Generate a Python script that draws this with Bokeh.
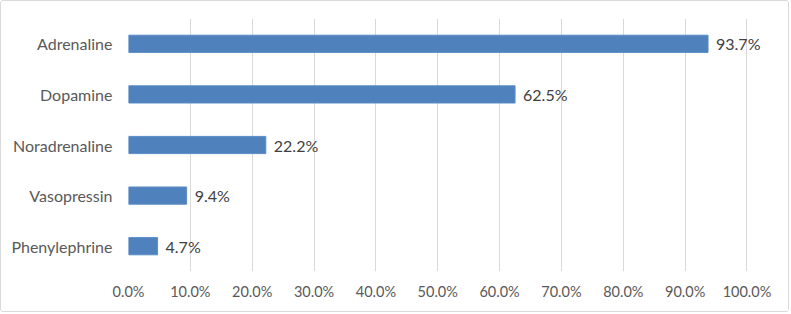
from bokeh.plotting import figure
from bokeh.models import ColumnDataSource, FactorRange, Range1d, FixedTicker, PrintfTickFormatter, LabelSet
from bokeh.core.properties import value
from bokeh.embed import file_html
from bokeh.resources import INLINE

categories = ["Adrenaline", "Dopamine", "Noradrenaline", "Vasopressin", "Phenylephrine"]
values = [93.7, 62.5, 22.2, 9.4, 4.7]
labels = ["93.7%", "62.5%", "22.2%", "9.4%", "4.7%"]
ticks = [0, 10, 20, 30, 40, 50, 60, 70, 80, 90, 100]

src = ColumnDataSource(dict(cat=categories, val=values, lab=labels))

p = figure(width=789, height=312, output_backend="svg", toolbar_location=None,
           y_range=FactorRange(factors=list(reversed(categories))),
           x_range=Range1d(0, 103.8),
           min_border_left=127, min_border_right=20, min_border_top=17, min_border_bottom=42)
p.styles = {"border": "1px solid #d9d9d9", "border-radius": "3px"}
p.outline_line_color = None
p.hbar(y="cat", right="val", left=0, height=0.34, source=src,
       fill_color="#4F81BD", line_color="#5B8CC6", line_width=1)

p.add_layout(LabelSet(x="val", y="cat", text="lab", source=src, x_offset=8,
                      text_baseline="middle", text_align="left",
                      text_font=value("Lato"), text_font_size=value("16px"),
                      text_color=value("#404040")))

p.xaxis.ticker = FixedTicker(ticks=ticks)
p.xaxis.formatter = PrintfTickFormatter(format="%.1f%%")
p.xaxis.axis_line_color = None
p.xaxis.major_tick_line_color = None
p.xaxis.minor_tick_line_color = None
p.xaxis.major_tick_out = 0
p.xaxis.major_tick_in = 0
p.xaxis.major_label_standoff = 11
p.xaxis.major_label_text_font = "Lato"
p.xaxis.major_label_text_font_size = "14.5px"
p.xaxis.major_label_text_color = "#595959"

p.yaxis.axis_line_color = None
p.yaxis.major_tick_line_color = None
p.yaxis.major_tick_out = 0
p.yaxis.major_tick_in = 0
p.yaxis.major_label_standoff = 16
p.yaxis.major_label_text_font = "Lato"
p.yaxis.major_label_text_font_size = "16px"
p.yaxis.major_label_text_color = "#595959"

p.xgrid.grid_line_color = "#d9d9d9"
p.xgrid.grid_line_width = 1
p.ygrid.grid_line_color = None

open("out.html", "w").write(file_html(p, INLINE))
